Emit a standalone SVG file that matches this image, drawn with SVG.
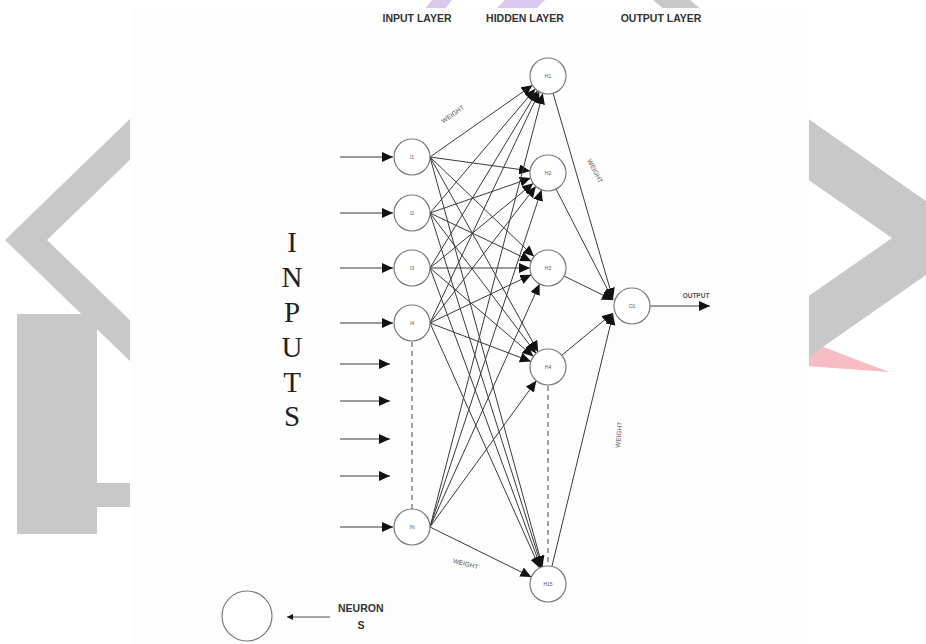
<svg xmlns="http://www.w3.org/2000/svg" width="926" height="644" viewBox="0 0 926 644">
<style>
.bg{fill:#c8c8c8}
.node{fill:#ffffff;stroke:#7a7a7a;stroke-width:1.2}
.nl{font-family:"Liberation Sans",Arial,sans-serif;font-size:5px;fill:#555;text-anchor:middle}
.hdr{font-family:"Liberation Sans",Arial,sans-serif;font-size:10.5px;font-weight:bold;fill:#333;text-anchor:middle}
.wt{font-family:"Liberation Sans",Arial,sans-serif;font-size:6.5px;fill:#555;text-anchor:middle}
.big{font-family:"Liberation Serif","Times New Roman",serif;font-size:29px;fill:#222;text-anchor:middle}
.c{stroke:#3a3a3a;stroke-width:0.9;fill:none}
.a{stroke:#3a3a3a;stroke-width:1;fill:none;marker-end:url(#ah)}
.dash{stroke:#444;stroke-width:1;stroke-dasharray:5 4;fill:none}
</style>
<defs>
<marker id="ah" markerUnits="userSpaceOnUse" markerWidth="12" markerHeight="10" refX="11" refY="5" orient="auto">
<path d="M0,0 L11,5 L0,10 z" fill="#111"/>
</marker>
<marker id="ahs" markerUnits="userSpaceOnUse" markerWidth="7" markerHeight="6" refX="6" refY="3" orient="auto">
<path d="M0,0 L6,3 L0,6 z" fill="#111"/>
</marker>
</defs>
<rect x="0" y="0" width="926" height="644" fill="#ffffff"/>
<g id="background">
<polygon fill="#f7bcc6" points="805,340 889,372 805,366"/>
<polygon class="bg" points="5,240 200,51 200,92 47,240 200,388 200,429"/>
<rect class="bg" x="17" y="314" width="80" height="220"/>
<rect class="bg" x="97" y="483" width="40" height="24"/>
<polygon class="bg" points="979,238 760,85 760,146 892,238 760,330 760,391"/>
<polygon fill="#d9c9ee" points="432,0 452,0 444,10 424,10"/>
<polygon fill="#d9c9ee" points="505,0 545,0 535,10 495,10"/>
<polygon class="bg" points="653,0 690,0 702,10 665,10"/>
<rect x="130" y="8" width="679" height="636" fill="#fdfdfd"/>
</g>
<g id="headers">
<text class="hdr" x="417" y="22">INPUT LAYER</text>
<text class="hdr" x="525" y="22">HIDDEN LAYER</text>
<text class="hdr" x="661" y="22">OUTPUT LAYER</text>
</g>
<g id="inputs-label">
<text class="big" x="292" y="252">I</text>
<text class="big" x="292" y="287">N</text>
<text class="big" x="292" y="322">P</text>
<text class="big" x="292" y="357">U</text>
<text class="big" x="292" y="392">T</text>
<text class="big" x="292" y="426">S</text>
</g>
<g id="connectors">
<line class="a" x1="340" y1="157" x2="393" y2="157"/>
<line class="a" x1="340" y1="213" x2="393" y2="213"/>
<line class="a" x1="340" y1="268" x2="393" y2="268"/>
<line class="a" x1="340" y1="323" x2="393" y2="323"/>
<line class="a" x1="340" y1="364" x2="390" y2="364"/>
<line class="a" x1="340" y1="401" x2="390" y2="401"/>
<line class="a" x1="340" y1="439" x2="390" y2="439"/>
<line class="a" x1="340" y1="476" x2="390" y2="476"/>
<line class="a" x1="340" y1="527" x2="393" y2="527"/>
<line class="dash" x1="412" y1="342" x2="412" y2="509"/>
<line class="dash" x1="548" y1="386" x2="548" y2="566"/>
<line class="a" x1="430" y1="157" x2="532.5" y2="85.2"/>
<line class="a" x1="430" y1="157" x2="530.1" y2="170.9"/>
<line class="a" x1="430" y1="157" x2="534.0" y2="256.6"/>
<line class="a" x1="430" y1="157" x2="538.2" y2="351.9"/>
<line class="a" x1="430" y1="157" x2="542.5" y2="566.8"/>
<line class="a" x1="430" y1="213" x2="535.3" y2="88.8"/>
<line class="a" x1="430" y1="213" x2="530.7" y2="178.1"/>
<line class="a" x1="430" y1="213" x2="531.3" y2="261.2"/>
<line class="a" x1="430" y1="213" x2="536.1" y2="353.5"/>
<line class="a" x1="430" y1="213" x2="541.8" y2="567.1"/>
<line class="a" x1="430" y1="268" x2="537.6" y2="90.7"/>
<line class="a" x1="430" y1="268" x2="533.2" y2="183.3"/>
<line class="a" x1="430" y1="268" x2="530" y2="268"/>
<line class="a" x1="430" y1="268" x2="533.4" y2="356.4"/>
<line class="a" x1="430" y1="268" x2="540.9" y2="567.5"/>
<line class="a" x1="430" y1="323" x2="539.3" y2="91.8"/>
<line class="a" x1="430" y1="323" x2="535.9" y2="186.3"/>
<line class="a" x1="430" y1="323" x2="531.3" y2="274.7"/>
<line class="a" x1="430" y1="323" x2="530.9" y2="361.5"/>
<line class="a" x1="430" y1="323" x2="539.7" y2="568.0"/>
<line class="a" x1="430" y1="527" x2="542.8" y2="93.2"/>
<line class="a" x1="430" y1="527" x2="541.5" y2="189.8"/>
<line class="a" x1="430" y1="527" x2="539.6" y2="283.9"/>
<line class="a" x1="430" y1="527" x2="536.3" y2="380.7"/>
<line class="a" x1="430" y1="527" x2="531.4" y2="577.0"/>
<line class="a" x1="553" y1="93" x2="613" y2="299"/>
<line class="a" x1="556" y1="189" x2="613" y2="300"/>
<line class="a" x1="564" y1="276" x2="613" y2="300"/>
<line class="a" x1="562" y1="355" x2="613" y2="313"/>
<line class="a" x1="552" y1="566" x2="613" y2="314"/>
<line class="a" x1="650" y1="306" x2="710" y2="306"/>
<line class="c" x1="330" y1="617" x2="287" y2="617" style="marker-end:url(#ahs)"/>
</g>
<g id="weights">
<text class="wt" transform="translate(454,116) rotate(-35)">WEIGHT</text>
<text class="wt" transform="translate(593,172) rotate(63)">WEIGHT</text>
<text class="wt" transform="translate(621,435) rotate(-85)">WEIGHT</text>
<text class="wt" transform="translate(465,566) rotate(15)">WEIGHT</text>
<text class="wt" x="696" y="298" style="font-weight:bold">OUTPUT</text>
</g>
<g id="node-I1"><circle class="node" cx="412" cy="157" r="18"/><text class="nl" x="412" y="159">I1</text></g>
<g id="node-I2"><circle class="node" cx="412" cy="213" r="18"/><text class="nl" x="412" y="215">I2</text></g>
<g id="node-I3"><circle class="node" cx="412" cy="268" r="18"/><text class="nl" x="412" y="270">I3</text></g>
<g id="node-I4"><circle class="node" cx="412" cy="323" r="18"/><text class="nl" x="412" y="325">I4</text></g>
<g id="node-In"><circle class="node" cx="412" cy="527" r="18"/><text class="nl" x="412" y="529">IN</text></g>
<g id="node-H1"><circle class="node" cx="548" cy="76" r="18"/><text class="nl" x="548" y="78">H1</text></g>
<g id="node-H2"><circle class="node" cx="548" cy="173" r="18"/><text class="nl" x="548" y="175">H2</text></g>
<g id="node-H3"><circle class="node" cx="548" cy="268" r="18"/><text class="nl" x="548" y="270">H3</text></g>
<g id="node-H4"><circle class="node" cx="548" cy="367" r="18"/><text class="nl" x="548" y="369">H4</text></g>
<g id="node-H15"><circle class="node" cx="548" cy="584" r="18"/><text class="nl" x="548" y="586">H15</text></g>
<g id="node-O1"><circle class="node" cx="632" cy="306" r="18"/><text class="nl" x="632" y="308">O1</text></g>
<g id="legend">
<circle class="node" cx="247" cy="616" r="25"/>
<text class="hdr" x="338" y="612" style="font-size:10.5px;text-anchor:start">NEURON</text>
<text class="hdr" x="361" y="629" style="font-size:10.5px">S</text>
</g>
</svg>
